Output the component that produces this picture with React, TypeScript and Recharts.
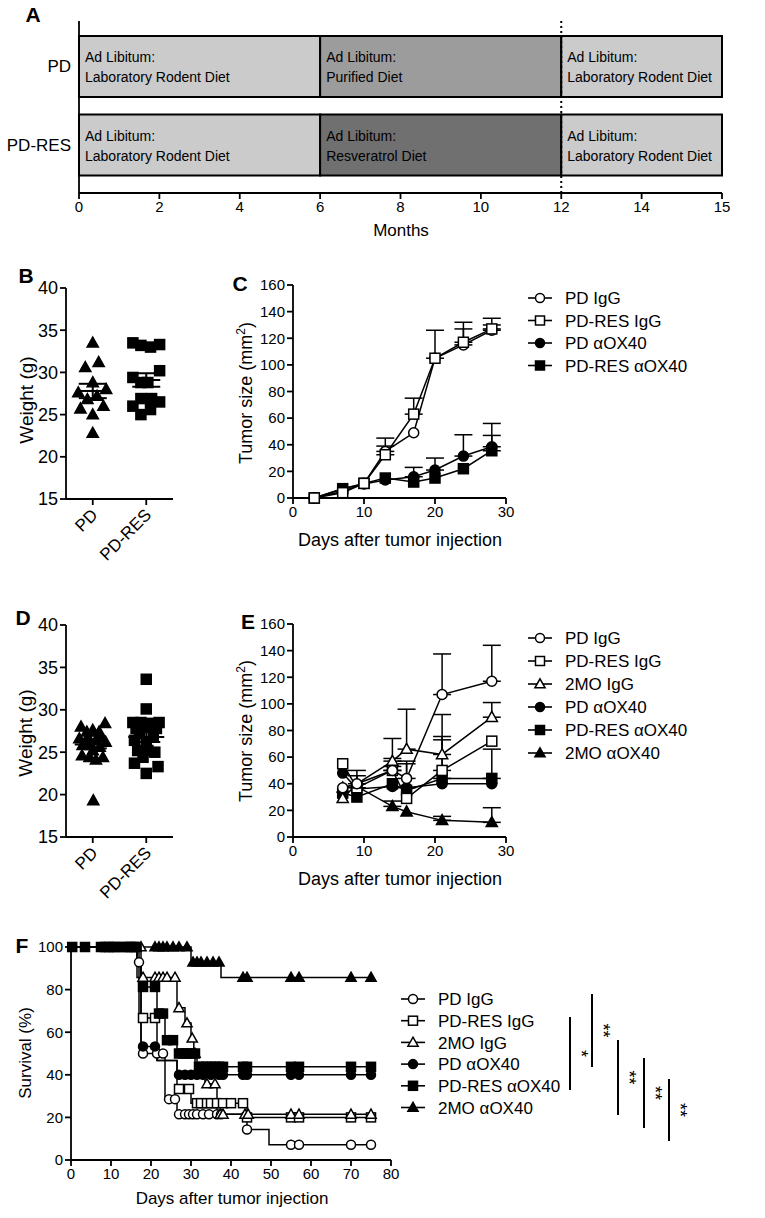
import React from "react";
import {
  Bar,
  BarChart,
  Cell,
  ComposedChart,
  ErrorBar,
  LabelList,
  Line,
  LineChart,
  ReferenceLine,
  Scatter,
  ScatterChart,
  XAxis,
  YAxis,
} from "recharts";

const FONT = "'Liberation Sans', Arial, Helvetica, sans-serif";

// ---------- A: diet timeline ----------
const dietGroups = ["PD", "PD-RES"];
const middleDiet = ["Purified Diet", "Resveratrol Diet"];
const middleFill = ["#9c9c9c", "#707070"];
const phaseEnds = [6, 12, 15];
const monthTicks = [0, 2, 4, 6, 8, 10, 12, 14, 15];
// the figure draws the last month (14 -> 15) twice as wide as the others
const monthPos = (m: number) => (m <= 14 ? m : 14 + (m - 14) * 2);

// ---------- B / D: body weight ----------
const bPdWeight = [33.5, 30.6, 31.2, 28.8, 27.6, 28.0, 26.8, 27.2, 25.7, 26.0, 25.0, 22.8];
const bPdJitter = [0, -0.14, 0.11, 0, -0.27, 0.25, -0.1, 0.08, -0.23, 0.2, 0, 0];
const bResWeight = [33.5, 33.2, 33.0, 33.3, 29.4, 30.2, 28.8, 28.8, 26.0, 26.9, 26.9, 26.5, 25.6, 25.0];
const bResJitter = [-0.25, -0.1, 0.08, 0.25, -0.25, 0.25, -0.1, 0.03, -0.25, -0.1, 0.1, 0.25, 0.08, -0.1];
const bMeans = [27.8, 29.1];
const bSems = [0.85, 0.8];

const dPdWeight = [28.0, 27.4, 27.6, 27.4, 28.4, 26.6, 26.2, 26.4, 26.2, 25.8, 25.8, 25.6, 24.6, 24.4, 24.1, 24.4, 19.3, 26.8, 26.8, 25.2];
const dPdJitter = [-0.22, -0.11, 0, 0.12, 0.23, -0.25, -0.11, 0.06, 0.24, -0.19, -0.03, 0.13, -0.2, -0.06, 0.06, 0.19, 0.01, -0.09, 0.16, 0];
const dResWeight = [33.6, 30.1, 28.5, 28.5, 28.4, 28.5, 27.8, 28.0, 27.8, 27.2, 27.0, 26.4, 26.2, 25.2, 25.2, 25.0, 24.4, 23.7, 23.3, 22.5];
const dResJitter = [0, 0, -0.25, -0.1, 0.1, 0.24, -0.19, 0, 0.19, -0.13, 0.13, -0.22, 0, -0.16, 0.03, 0.16, -0.06, -0.22, 0.22, 0];
const dMeans = [25.9, 26.8];
const dSems = [0.45, 0.6];

const groupLabels = ["PD", "PD-RES"];

// ---------- C: tumor size ----------
const cDays = [3, 7, 10, 13, 17, 20, 24, 28];
const cPdIgG = [0, 5, 11, 35, 49, 105, 115, 126];
const cPdIgGErr = [0, 0, 0, 4, 0, 21, 12, 4];
const cResIgG = [0, 4, 11, 32.5, 63, 105, 117, 127];
const cResIgGErr = [0, 0, 0, 12.5, 12, 0, 15, 8];
const cPdOx40 = [0, 7, 10.5, 13.5, 16, 21, 31.5, 38.5];
const cPdOx40Err = [0, 0, 0, 0, 7, 9, 16, 17.5];
const cResOx40 = [0, 7, 11, 15, 12, 15, 22, 35.5];
const cResOx40Err = [0, 0, 0, 0, 0, 0, 0, 11.5];

// ---------- E: tumor size with 2MO ----------
const eDays = [7, 9, 14, 16, 21, 28];
const ePdIgG = [37, 40, 50, 44, 107, 117];
const ePdIgGErr = [0, 6, 9, 13, 30.5, 27];
const eResIgG = [55, 37, 50, 29, 50, 72];
const eResIgGErr = [0, 13, 3, 0, 25.5, 0];
const e2moIgG = [29, 40, 57, 66, 62, 90];
const e2moIgGErr = [0, 0, 17, 30, 30, 11];
const ePdOx40 = [48, 36, 38, 37, 40, 40];
const ePdOx40Err = [0, 0, 0, 18, 0, 0];
const eResOx40 = [33, 30, 40, 35, 44, 44];
const eResOx40Err = [0, 0, 0, 0, 29, 22];
const e2moOx40 = [37, 38, 23, 19, 12.5, 11];
const e2moOx40Err = [0, 0, 4, 0, 3, 11];

// ---------- F: survival ----------
const fPdIgGStepDays = [0, 16.5, 17.5, 23.5, 26.5, 44, 49.5, 75];
const fPdIgGStepSurv = [100, 92.86, 50, 28.57, 21.43, 14.29, 7.14, 7.14];
const fPdIgGCensorDays = [17, 18, 21.5, 23, 24.5, 26, 27, 28.5, 29.5, 30.5, 31.5, 33, 34.5, 36.5, 37.5, 44, 55, 57, 70, 75];
const fPdIgGCensorSurv = [92.86, 50, 50, 50, 28.57, 28.57, 21.43, 21.43, 21.43, 21.43, 21.43, 21.43, 21.43, 21.43, 21.43, 14.29, 7.14, 7.14, 7.14, 7.14];

const fResIgGStepDays = [0, 17, 21.5, 26.5, 30, 44, 75];
const fResIgGStepSurv = [100, 66.67, 46.67, 33.33, 26.67, 20, 20];
const fResIgGCensorDays = [18, 21, 27, 29.5, 31.5, 32.5, 34, 35, 36.5, 38, 40, 43, 44, 55, 57, 70, 75];
const fResIgGCensorSurv = [66.67, 66.67, 33.33, 33.33, 26.67, 26.67, 26.67, 26.67, 26.67, 26.67, 26.67, 26.67, 20, 20, 20, 20, 20];

const f2moIgGStepDays = [0, 16.5, 26.5, 28.5, 30, 30.7, 31.5, 33.5, 36.5, 75];
const f2moIgGStepSurv = [100, 85.71, 71.43, 64.29, 57.14, 50, 42.86, 35.71, 21.43, 21.43];
const f2moIgGCensorDays = [17.5, 18, 21, 22, 23, 24, 26, 27, 29, 30.3, 31, 31.8, 34, 36, 37.3, 38, 43.5, 44.3, 55, 57, 70, 75];
const f2moIgGCensorSurv = [100, 85.71, 85.71, 85.71, 85.71, 85.71, 85.71, 71.43, 64.29, 57.14, 50, 42.86, 35.71, 35.71, 21.43, 21.43, 21.43, 21.43, 21.43, 21.43, 21.43, 21.43];

const fPdOx40StepDays = [0, 16.5, 17.5, 21.5, 26.5, 75];
const fPdOx40StepSurv = [100, 93.33, 53.33, 46.67, 40, 40];
const fPdOx40CensorDays = [18, 21, 27, 28.5, 30, 31.5, 33, 35, 37, 38, 43, 44, 55, 57, 70, 75];
const fPdOx40CensorSurv = [53.33, 53.33, 40, 40, 40, 40, 40, 40, 40, 40, 40, 40, 40, 40, 40, 40];

const fResOx40StepDays = [0, 17.5, 21.5, 23.5, 26.5, 31, 75];
const fResOx40StepSurv = [100, 81.25, 68.75, 56.25, 50, 43.75, 43.75];
const fResOx40CensorDays = [0.3, 3.5, 7.5, 8.5, 9.5, 10.5, 11.3, 13, 14, 15, 15.7, 16.4, 18, 21, 22, 23, 24, 25.5, 27, 28, 29, 30, 31, 32, 33, 34, 35, 36, 37, 38, 43, 44, 55, 57, 70, 75];
const fResOx40CensorSurv = [100, 100, 100, 100, 100, 100, 100, 100, 100, 100, 100, 100, 81.25, 81.25, 68.75, 68.75, 56.25, 56.25, 50, 50, 50, 50, 50, 43.75, 43.75, 43.75, 43.75, 43.75, 43.75, 43.75, 43.75, 43.75, 43.75, 43.75, 43.75, 43.75];

const f2moOx40StepDays = [0, 30, 37.5, 75];
const f2moOx40StepSurv = [100, 92.86, 85.71, 85.71];
const f2moOx40CensorDays = [21, 22, 23, 24, 25.5, 27, 29, 30.5, 31.5, 32.5, 34, 35.5, 37, 43, 44, 55, 57, 70, 75];
const f2moOx40CensorSurv = [100, 100, 100, 100, 100, 100, 100, 92.86, 92.86, 92.86, 92.86, 92.86, 92.86, 85.71, 85.71, 85.71, 85.71, 85.71, 85.71];

// ---------- shared bits ----------
type Kind = "circle" | "square" | "triangle";

function Marker({ kind, filled, cx, cy, s }: { kind: Kind; filled: boolean; cx: number; cy: number; s: number }) {
  const common = { fill: filled ? "#000" : "#fff", stroke: "#000", strokeWidth: 1.5 };
  if (kind === "circle") return <circle cx={cx} cy={cy} r={s / 2} {...common} />;
  if (kind === "square") return <rect x={cx - s / 2} y={cy - s / 2} width={s} height={s} {...common} />;
  const h = s * 1.0;
  return (
    <polygon
      points={`${cx},${cy - h * 0.58} ${cx + s / 2 + 0.6},${cy + h * 0.42} ${cx - s / 2 - 0.6},${cy + h * 0.42}`}
      {...common}
    />
  );
}

const axisLine = { stroke: "#000", strokeWidth: 1.8 };
const tickLine = { stroke: "#000", strokeWidth: 1.8 };
const tickStyle = (size: number) => ({ fill: "#000", fontSize: size, fontFamily: FONT });

const PD_IGG = { name: "PD IgG", kind: "circle" as Kind, filled: false };
const RES_IGG = { name: "PD-RES IgG", kind: "square" as Kind, filled: false };
const MO_IGG = { name: "2MO IgG", kind: "triangle" as Kind, filled: false };
const PD_OX = { name: "PD αOX40", kind: "circle" as Kind, filled: true };
const RES_OX = { name: "PD-RES αOX40", kind: "square" as Kind, filled: true };
const MO_OX = { name: "2MO αOX40", kind: "triangle" as Kind, filled: true };

function Txt({ x, y, size, bold, rotate, children }: any) {
  return (
    <div
      style={{
        position: "absolute",
        left: x,
        top: y,
        transform: `translate(-50%, -50%)${rotate ? " rotate(-90deg)" : ""}`,
        fontFamily: FONT,
        fontSize: size,
        fontWeight: bold ? "bold" : "normal",
        whiteSpace: "nowrap",
        lineHeight: 1,
        color: "#000",
      }}
    >
      {children}
    </div>
  );
}

function LegendBox({ left, top, rows, gap, size }: any) {
  return (
    <svg style={{ position: "absolute", left, top }} width={220} height={rows.length * gap + 12}>
      {rows.map((r: any, i: number) => {
        const cy = 10 + i * gap;
        return (
          <g key={r.name}>
            <line x1={0} x2={24} y1={cy} y2={cy} stroke="#000" strokeWidth={1.6} />
            <Marker kind={r.kind} filled={r.filled} cx={12} cy={cy} s={9} />
            <text x={37} y={cy + size * 0.36} fontSize={size} fontFamily={FONT} fill="#000">
              {r.name}
            </text>
          </g>
        );
      })}
    </svg>
  );
}

// ---------- A ----------
function TimelinePanel() {
  const rows = dietGroups.map((group) => ({
    group,
    p1: monthPos(phaseEnds[0]) - monthPos(0),
    p2: monthPos(phaseEnds[1]) - monthPos(phaseEnds[0]),
    p3: monthPos(phaseEnds[2]) - monthPos(phaseEnds[1]),
  }));
  const tickPos = monthTicks.map(monthPos);
  const seg = (phase: number) => (p: any) => {
    const name = phase === 1 ? middleDiet[p.index] : "Laboratory Rodent Diet";
    return (
      <g key={`seg-${phase}-${p.index}`}>
        <text x={p.x + 6} y={p.y + 26} fontSize={14} fontFamily={FONT} fill="#000">
          Ad Libitum:
        </text>
        <text x={p.x + 6} y={p.y + 46} fontSize={14} fontFamily={FONT} fill="#000">
          {name}
        </text>
      </g>
    );
  };
  return (
    <div style={{ position: "absolute", left: 0, top: 0 }}>
      <BarChart
        width={765}
        height={240}
        data={rows}
        layout="vertical"
        barSize={61}
        margin={{ top: 21, right: 43, bottom: 2, left: 9 }}
      >
        <XAxis
          type="number"
          domain={[0, 16]}
          ticks={tickPos}
          tickFormatter={(v: number) => String(monthTicks[tickPos.indexOf(v)])}
          axisLine={axisLine}
          tickLine={tickLine}
          tick={tickStyle(15)}
          height={45}
        />
        <YAxis
          type="category"
          dataKey="group"
          width={70}
          axisLine={axisLine}
          tickLine={false}
          tick={tickStyle(17)}
          padding={{ top: 6, bottom: 9 }}
        />
        <Bar dataKey="p1" stackId="a" fill="#cbcbcb" stroke="#000" strokeWidth={2} isAnimationActive={false}>
          <LabelList dataKey="p1" content={seg(0)} />
        </Bar>
        <Bar dataKey="p2" stackId="a" stroke="#000" strokeWidth={2} isAnimationActive={false}>
          {rows.map((_, i) => (
            <Cell key={`mid-${i}`} fill={middleFill[i]} />
          ))}
          <LabelList dataKey="p2" content={seg(1)} />
        </Bar>
        <Bar dataKey="p3" stackId="a" fill="#cbcbcb" stroke="#000" strokeWidth={2} isAnimationActive={false}>
          <LabelList dataKey="p3" content={seg(2)} />
        </Bar>
        <ReferenceLine x={monthPos(12)} stroke="#000" strokeWidth={2} strokeDasharray="2 3" />
      </BarChart>
    </div>
  );
}

// ---------- B / D ----------
function GroupTick({ x, y, payload }: any) {
  const label = groupLabels[payload.value - 1];
  const ax = x + 6;
  const ay = y + 9;
  return (
    <text x={ax} y={ay} transform={`rotate(-45, ${ax}, ${ay})`} textAnchor="end" fontSize={17} fontFamily={FONT} fill="#000">
      {label}
    </text>
  );
}

function WeightPanel({ top, pd, pdJit, res, resJit, means, sems, half, marginTop, xHeight }: any) {
  const pdPts = pd.map((w: number, i: number) => ({ x: 1 + pdJit[i], y: w }));
  const resPts = res.map((w: number, i: number) => ({ x: 2 + resJit[i], y: w }));
  const meanPts = means.map((m: number, i: number) => ({ x: i + 1, y: m, err: sems[i] }));
  return (
    <div style={{ position: "absolute", left: 0, top }}>
      <ScatterChart width={185} height={320} margin={{ top: marginTop, right: 12, bottom: 26, left: 10 }}>
        <XAxis
          type="number"
          dataKey="x"
          domain={[0.5, 2.5]}
          ticks={[1, 2]}
          axisLine={axisLine}
          tickLine={tickLine}
          tick={<GroupTick />}
          height={xHeight}
        />
        <YAxis
          type="number"
          dataKey="y"
          domain={[15, 40]}
          ticks={[15, 20, 25, 30, 35, 40]}
          axisLine={axisLine}
          tickLine={tickLine}
          tick={tickStyle(18)}
          width={56}
        />
        <Scatter
          data={pdPts}
          isAnimationActive={false}
          shape={(p: any) => <Marker kind="triangle" filled cx={p.cx} cy={p.cy} s={10} />}
        />
        <Scatter
          data={resPts}
          isAnimationActive={false}
          shape={(p: any) => <Marker kind="square" filled cx={p.cx} cy={p.cy} s={10} />}
        />
        <Scatter
          data={meanPts}
          isAnimationActive={false}
          shape={(p: any) => (
            <line x1={p.cx - half} x2={p.cx + half} y1={p.cy} y2={p.cy} stroke="#000" strokeWidth={2} />
          )}
        >
          <ErrorBar dataKey="err" direction="y" width={14} stroke="#000" strokeWidth={2} />
        </Scatter>
      </ScatterChart>
    </div>
  );
}

// ---------- C / E ----------
function TumorPanel({ left, top, days, series, marginTop, xHeight }: any) {
  const rows = days.map((day: number, i: number) => {
    const row: any = { day };
    series.forEach((s: any) => {
      row[s.key] = s.values[i];
      row[`${s.key}Err`] = s.err[i] ? [0, s.err[i]] : null;
    });
    return row;
  });
  return (
    <div style={{ position: "absolute", left, top }}>
      <LineChart width={300} height={300} data={rows} margin={{ top: marginTop, right: 24, bottom: 7, left: 8 }}>
        <XAxis
          type="number"
          dataKey="day"
          domain={[0, 30]}
          ticks={[0, 10, 20, 30]}
          axisLine={axisLine}
          tickLine={tickLine}
          tick={tickStyle(15)}
          height={xHeight}
        />
        <YAxis
          type="number"
          domain={[0, 160]}
          ticks={[0, 20, 40, 60, 80, 100, 120, 140, 160]}
          axisLine={axisLine}
          tickLine={tickLine}
          tick={tickStyle(15)}
          width={55}
        />
        {series.map((s: any) => (
          <Line
            key={s.key}
            dataKey={s.key}
            stroke="#000"
            strokeWidth={1.5}
            isAnimationActive={false}
            dot={(p: any) => (
              <Marker key={`${s.key}-${p.index}`} kind={s.kind} filled={s.filled} cx={p.cx} cy={p.cy} s={10} />
            )}
          >
            <ErrorBar dataKey={`${s.key}Err`} direction="y" width={9} stroke="#000" strokeWidth={1.5} />
          </Line>
        ))}
      </LineChart>
    </div>
  );
}

const cSeries = [
  { key: "resOx", ...RES_OX, values: cResOx40, err: cResOx40Err },
  { key: "pdOx", ...PD_OX, values: cPdOx40, err: cPdOx40Err },
  { key: "pdIgG", ...PD_IGG, values: cPdIgG, err: cPdIgGErr },
  { key: "resIgG", ...RES_IGG, values: cResIgG, err: cResIgGErr },
];

const eSeries = [
  { key: "moOx", ...MO_OX, values: e2moOx40, err: e2moOx40Err },
  { key: "resOx", ...RES_OX, values: eResOx40, err: eResOx40Err },
  { key: "pdOx", ...PD_OX, values: ePdOx40, err: ePdOx40Err },
  { key: "resIgG", ...RES_IGG, values: eResIgG, err: eResIgGErr },
  { key: "moIgG", ...MO_IGG, values: e2moIgG, err: e2moIgGErr },
  { key: "pdIgG", ...PD_IGG, values: ePdIgG, err: ePdIgGErr },
];

// ---------- F ----------
const toPts = (d: number[], s: number[]) => d.map((v, i) => ({ d: v, s: s[i] }));
const fGroups = [
  { ...PD_IGG, steps: toPts(fPdIgGStepDays, fPdIgGStepSurv), cens: toPts(fPdIgGCensorDays, fPdIgGCensorSurv) },
  { ...RES_IGG, steps: toPts(fResIgGStepDays, fResIgGStepSurv), cens: toPts(fResIgGCensorDays, fResIgGCensorSurv) },
  { ...MO_IGG, steps: toPts(f2moIgGStepDays, f2moIgGStepSurv), cens: toPts(f2moIgGCensorDays, f2moIgGCensorSurv) },
  { ...PD_OX, steps: toPts(fPdOx40StepDays, fPdOx40StepSurv), cens: toPts(fPdOx40CensorDays, fPdOx40CensorSurv) },
  { ...RES_OX, steps: toPts(fResOx40StepDays, fResOx40StepSurv), cens: toPts(fResOx40CensorDays, fResOx40CensorSurv) },
  { ...MO_OX, steps: toPts(f2moOx40StepDays, f2moOx40StepSurv), cens: toPts(f2moOx40CensorDays, f2moOx40CensorSurv) },
];

function SurvivalPanel() {
  return (
    <div style={{ position: "absolute", left: 0, top: 905 }}>
      <ComposedChart width={410} height={313} margin={{ top: 42, right: 19, bottom: 6, left: 11 }}>
        <XAxis
          type="number"
          dataKey="d"
          domain={[0, 80]}
          ticks={[0, 10, 20, 30, 40, 50, 60, 70, 80]}
          axisLine={axisLine}
          tickLine={tickLine}
          tick={tickStyle(15)}
          height={52}
        />
        <YAxis
          type="number"
          domain={[0, 100]}
          ticks={[0, 20, 40, 60, 80, 100]}
          axisLine={axisLine}
          tickLine={tickLine}
          tick={tickStyle(15)}
          width={60}
        />
        {fGroups.map((g) => (
          <Line
            key={`l-${g.name}`}
            data={g.steps}
            dataKey="s"
            type="stepAfter"
            dot={false}
            stroke="#000"
            strokeWidth={1.5}
            isAnimationActive={false}
          />
        ))}
        {fGroups.map((g) => (
          <Scatter
            key={`c-${g.name}`}
            data={g.cens}
            dataKey="s"
            isAnimationActive={false}
            shape={(p: any) => <Marker kind={g.kind} filled={g.filled} cx={p.cx} cy={p.cy} s={9} />}
          />
        ))}
      </ComposedChart>
    </div>
  );
}

// significance bars beside the F legend: x, top, bottom, stars
const sigBrackets = [
  { x: 570, y1: 1017, y2: 1090, stars: "*" },
  { x: 592, y1: 994, y2: 1067, stars: "**" },
  { x: 618, y1: 1040, y2: 1115, stars: "**" },
  { x: 644, y1: 1058, y2: 1128, stars: "**" },
  { x: 669, y1: 1079, y2: 1141, stars: "**" },
];

function Brackets() {
  return (
    <svg style={{ position: "absolute", left: 0, top: 0 }} width={765} height={1218}>
      {sigBrackets.map((b, i) => {
        const cy = (b.y1 + b.y2) / 2;
        const tx = b.x + 10;
        return (
          <g key={i}>
            <line x1={b.x} x2={b.x} y1={b.y1} y2={b.y2} stroke="#000" strokeWidth={2} />
            <text
              x={tx}
              y={cy + 5}
              transform={`rotate(90, ${tx}, ${cy})`}
              textAnchor="middle"
              fontSize={18}
              fontFamily={FONT}
              fill="#000"
            >
              {b.stars}
            </text>
          </g>
        );
      })}
    </svg>
  );
}

export default function App() {
  return (
    <div
      style={{
        position: "absolute",
        left: 0,
        top: 0,
        width: 765,
        height: 1218,
        background: "#fff",
        overflow: "hidden",
        fontFamily: FONT,
      }}
    >
      <TimelinePanel />
      <WeightPanel
        top={255}
        pd={bPdWeight}
        pdJit={bPdJitter}
        res={bResWeight}
        resJit={bResJitter}
        means={bMeans}
        sems={bSems}
        half={14}
        marginTop={33}
        xHeight={50}
      />
      <WeightPanel
        top={595}
        pd={dPdWeight}
        pdJit={dPdJitter}
        res={dResWeight}
        resJit={dResJitter}
        means={dMeans}
        sems={dSems}
        half={18}
        marginTop={30}
        xHeight={52}
      />
      <TumorPanel left={230} top={255} days={cDays} series={cSeries} marginTop={30} xHeight={50} />
      <TumorPanel left={230} top={595} days={eDays} series={eSeries} marginTop={29} xHeight={51} />
      <SurvivalPanel />
      <LegendBox left={528} top={288} rows={[PD_IGG, RES_IGG, PD_OX, RES_OX]} gap={22.5} size={17} />
      <LegendBox left={528} top={628} rows={[PD_IGG, RES_IGG, MO_IGG, PD_OX, RES_OX, MO_OX]} gap={23} size={17} />
      <LegendBox left={401} top={989} rows={[PD_IGG, RES_IGG, MO_IGG, PD_OX, RES_OX, MO_OX]} gap={21.7} size={17} />
      <Brackets />

      <Txt x={33} y={14} size={21} bold>A</Txt>
      <Txt x={26} y={275} size={21} bold>B</Txt>
      <Txt x={240} y={283} size={21} bold>C</Txt>
      <Txt x={23} y={617} size={21} bold>D</Txt>
      <Txt x={248} y={621} size={21} bold>E</Txt>
      <Txt x={22} y={945} size={21} bold>F</Txt>

      <Txt x={401} y={230} size={17}>Months</Txt>
      <Txt x={26} y={400} size={19} rotate>Weight (g)</Txt>
      <Txt x={25} y={733} size={19} rotate>Weight (g)</Txt>
      <Txt x={245} y={393} size={18} rotate>
        Tumor size (mm<sup style={{ fontSize: 12 }}>2</sup>)
      </Txt>
      <Txt x={245} y={731} size={18} rotate>
        Tumor size (mm<sup style={{ fontSize: 12 }}>2</sup>)
      </Txt>
      <Txt x={400} y={540} size={18}>Days after tumor injection</Txt>
      <Txt x={400} y={879} size={18}>Days after tumor injection</Txt>
      <Txt x={25} y={1053} size={17} rotate>Survival (%)</Txt>
      <Txt x={232} y={1198} size={17}>Days after tumor injection</Txt>
    </div>
  );
}
